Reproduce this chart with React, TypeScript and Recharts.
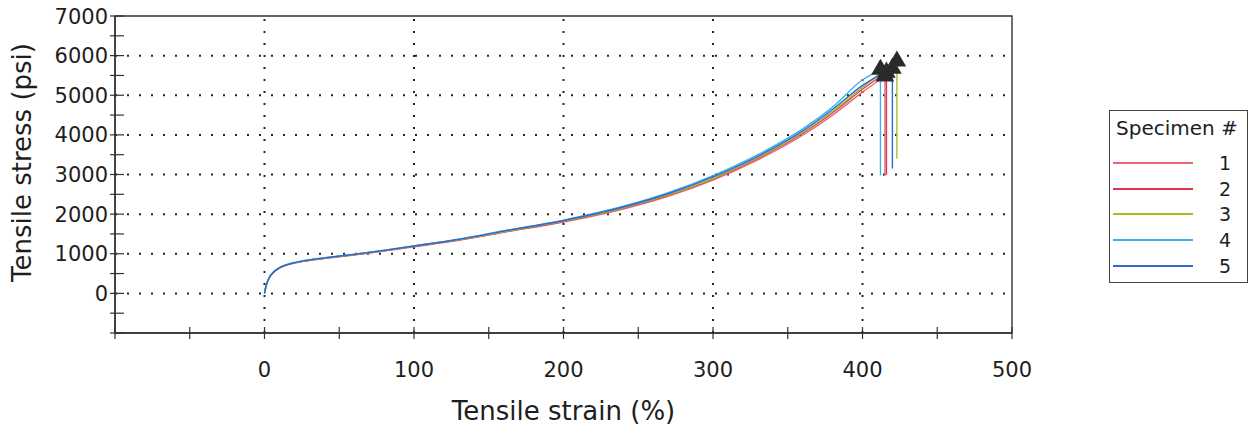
import {
  ComposedChart,
  Line,
  Scatter,
  XAxis,
  YAxis,
  ZAxis,
  ReferenceLine,
  ReferenceArea,
  Legend,
  Label,
} from "recharts";

// strain points (%) shared by all specimens
const strains = [0, 1, 3, 6, 10, 15, 20, 30, 40, 60, 80, 100, 130, 160, 200, 240, 270, 300, 330, 360, 380, 400];

// stress (psi)
const stress1 = [0, 180, 380, 530, 640, 715, 765, 830, 880, 970, 1070, 1175, 1340, 1540, 1800, 2130, 2450, 2860, 3370, 3990, 4500, 5080];
const stress2 = [0, 180, 380, 530, 640, 720, 770, 835, 885, 975, 1075, 1185, 1350, 1550, 1815, 2150, 2475, 2890, 3410, 4040, 4560, 5150];
const stress3 = [0, 180, 380, 530, 640, 720, 770, 840, 890, 980, 1080, 1190, 1355, 1555, 1825, 2160, 2485, 2900, 3425, 4060, 4590, 5200];
const stress4 = [0, 185, 390, 540, 650, 730, 780, 850, 900, 990, 1090, 1200, 1370, 1580, 1850, 2200, 2540, 2970, 3500, 4150, 4700, 5390];
const stress5 = [0, 185, 385, 535, 645, 725, 775, 845, 895, 985, 1085, 1195, 1365, 1570, 1840, 2180, 2515, 2940, 3460, 4100, 4640, 5250];

const specimenNames = ["1", "2", "3", "4", "5"];
const specimenColors = ["#ea6675", "#e2354d", "#9cc42a", "#3fb0e6", "#2f68d2"];
const breakStrain = [415, 416, 423, 412, 420];
const breakStress = [5480, 5580, 5860, 5650, 5680];
const dropStress = [2960, 2990, 3400, 2980, 3150];

const xTicks = [-100, -50, 0, 50, 100, 150, 200, 250, 300, 350, 400, 450, 500];
const yTicks = [-1000, -500, 0, 500, 1000, 1500, 2000, 2500, 3000, 3500, 4000, 4500, 5000, 5500, 6000, 6500, 7000];
const xGrid = [0, 100, 200, 300, 400];
const yGrid = [0, 1000, 2000, 3000, 4000, 5000, 6000];

const FONT = "'DejaVu Sans', Verdana, sans-serif";
const INK = "#1e1e1e";

const allStress = [stress1, stress2, stress3, stress4, stress5];

const curves = allStress.map((vals, i) => [
  ...strains.map((x, j) => ({ x, y: vals[j] })),
  { x: breakStrain[i], y: breakStress[i] },
]);

const drops = specimenNames.map((_, i) => [
  { x: breakStrain[i], y: breakStress[i] },
  { x: breakStrain[i], y: dropStress[i] },
]);

const peaks = specimenNames.map((_, i) => ({ x: breakStrain[i], y: breakStress[i] }));

const YTick = ({ x, y, payload }: any) => {
  const v = payload.value;
  const show = v >= 0 && v % 1000 === 0;
  return (
    <g>
      <line x1={x - 5} x2={x + 9} y1={y} y2={y} stroke="#333" strokeWidth={1.2} />
      {show && (
        <text x={x - 7} y={y} dy="0.36em" textAnchor="end" fontSize={21} fill={INK} fontFamily={FONT}>
          {v}
        </text>
      )}
    </g>
  );
};

const XTick = ({ x, y, payload }: any) => {
  const v = payload.value;
  const show = v >= 0 && v % 100 === 0;
  return (
    <g>
      <line x1={x} x2={x} y1={y - 6} y2={y + 6} stroke="#333" strokeWidth={1.2} />
      {show && (
        <text x={x} y={y + 36} dy="0.36em" textAnchor="middle" fontSize={21} fill={INK} fontFamily={FONT}>
          {v}
        </text>
      )}
    </g>
  );
};

const SpecimenLegend = () => (
  <div
    style={{
      position: "relative",
      width: 139,
      height: 173,
      border: "1.5px solid #444",
      boxSizing: "border-box",
      background: "#fff",
      fontFamily: FONT,
      color: INK,
    }}
  >
    <div style={{ position: "absolute", left: 6, top: 5, fontSize: 20, whiteSpace: "nowrap" }}>Specimen #</div>
    {specimenNames.map((name, i) => (
      <div
        key={name}
        style={{
          position: "absolute",
          left: 3,
          top: 52 + i * 25.7 - 12,
          height: 24,
          display: "flex",
          alignItems: "center",
        }}
      >
        <div style={{ width: 80, borderTop: `2px solid ${specimenColors[i]}` }} />
        <span style={{ marginLeft: 26, fontSize: 19 }}>{name}</span>
      </div>
    ))}
  </div>
);

export default function App() {
  return (
    <div style={{ width: 1257, height: 429, background: "#fff" }}>
      <style>{"body{margin:0}"}</style>
      <ComposedChart width={1257} height={429} margin={{ top: 16, right: 245, left: 0, bottom: 0 }}>
        <XAxis
          type="number"
          dataKey="x"
          domain={[-100, 500]}
          ticks={xTicks}
          interval={0}
          height={96}
          tickSize={0}
          tickMargin={0}
          tick={<XTick />}
          tickLine={false}
          axisLine={{ stroke: "#333", strokeWidth: 1.4 }}
        >
          <Label
            content={({ viewBox }: any) => (
              <text
                x={viewBox.x + viewBox.width / 2}
                y={viewBox.y + 78}
                dy="0.36em"
                textAnchor="middle"
                fontSize={26}
                fill={INK}
                fontFamily={FONT}
              >
                Tensile strain (%)
              </text>
            )}
          />
        </XAxis>
        <YAxis
          type="number"
          dataKey="y"
          domain={[-1000, 7000]}
          ticks={yTicks}
          interval={0}
          width={115}
          tickSize={0}
          tickMargin={0}
          tick={<YTick />}
          tickLine={false}
          axisLine={{ stroke: "#333", strokeWidth: 1.4 }}
        >
          <Label
            content={({ viewBox }: any) => {
              const cx = viewBox.x + 22;
              const cy = viewBox.y + viewBox.height / 2 - 12;
              return (
                <text
                  x={cx}
                  y={cy}
                  dy="0.36em"
                  transform={`rotate(-90 ${cx} ${cy})`}
                  textAnchor="middle"
                  fontSize={26}
                  fill={INK}
                  fontFamily={FONT}
                >
                  Tensile stress (psi)
                </text>
              );
            }}
          />
        </YAxis>
        <ZAxis type="number" range={[150, 150]} />

        <ReferenceArea x1={-100} x2={500} y1={-1000} y2={7000} fill="none" stroke="#333" strokeWidth={1.4} />

        {yGrid.map((v) => (
          <ReferenceLine key={`gy${v}`} y={v} stroke="#222" strokeWidth={2} strokeDasharray="2 10" />
        ))}
        {xGrid.map((v) => (
          <ReferenceLine key={`gx${v}`} x={v} stroke="#222" strokeWidth={2} strokeDasharray="2 10" />
        ))}

        {curves.map((pts, i) => (
          <Line
            key={`c${i}`}
            data={pts}
            dataKey="y"
            type="monotone"
            stroke={specimenColors[i]}
            strokeWidth={1.4}
            dot={false}
            activeDot={false}
            isAnimationActive={false}
            name={specimenNames[i]}
          />
        ))}
        {drops.map((pts, i) => (
          <Line
            key={`d${i}`}
            data={pts}
            dataKey="y"
            type="linear"
            stroke={specimenColors[i]}
            strokeWidth={1.4}
            dot={false}
            activeDot={false}
            legendType="none"
            isAnimationActive={false}
          />
        ))}
        <Scatter
          data={peaks}
          dataKey="y"
          shape="triangle"
          fill="#2a2a2a"
          legendType="none"
          isAnimationActive={false}
        />

        <Legend
          layout="vertical"
          align="center"
          verticalAlign="middle"
          content={<SpecimenLegend />}
          wrapperStyle={{ left: 1109, top: 110, width: 139 }}
        />
      </ComposedChart>
    </div>
  );
}
